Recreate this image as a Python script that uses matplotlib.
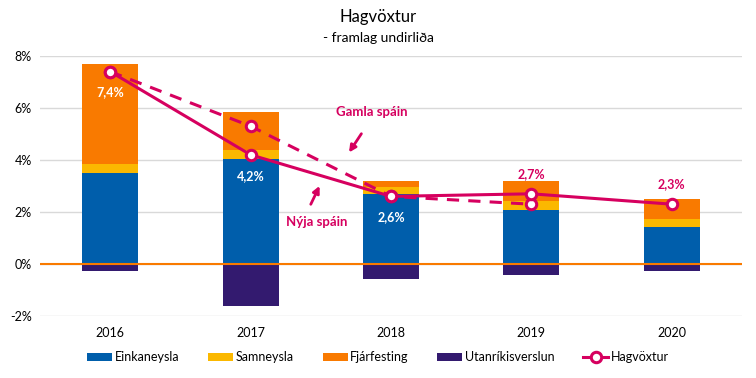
import matplotlib.pyplot as plt
import numpy as np

years = ["2016", "2017", "2018", "2019", "2020"]
einkaneysla = [3.5, 4.04, 2.69, 2.08, 1.42]
samneysla = [0.35, 0.34, 0.27, 0.34, 0.31]
fjarfesting = [3.85, 1.47, 0.24, 0.77, 0.77]
utanrikis = [-0.26, -1.6, -0.56, -0.42, -0.26]
hagvoxtur = [7.4, 4.2, 2.6, 2.7, 2.3]
gamla_spain = [7.4, 5.3, 2.6, 2.3]
value_labels = ["7,4%", "4,2%", "2,6%", "2,7%", "2,3%"]

c_blue = "#005EAB"
c_yellow = "#FBB800"
c_orange = "#F97A00"
c_purple = "#331A6F"
c_line = "#D6005F"

plt.rcParams['font.family'] = ['Lato', 'DejaVu Sans']

fig = plt.figure(figsize=(7.56, 3.78), dpi=100)
ax = fig.add_axes([40 / 756, 1 - 316 / 378, 702 / 756, 260 / 378])

x = np.arange(len(years))
w = 0.4
e = np.array(einkaneysla)
s = np.array(samneysla)
f = np.array(fjarfesting)
ax.bar(x, e, w, color=c_blue, label="Einkaneysla", zorder=2)
ax.bar(x, s, w, bottom=e, color=c_yellow, label="Samneysla", zorder=2)
ax.bar(x, f, w, bottom=e + s, color=c_orange, label="Fjárfesting", zorder=2)
ax.bar(x, utanrikis, w, color=c_purple, label="Utanríkisverslun", zorder=2)

ax.axhline(0, color=c_orange, lw=1.5, zorder=3)

ax.plot(x[:len(gamla_spain)], gamla_spain, color=c_line, lw=2.2, ls=(0, (4, 3)),
        marker="o", ms=7.5, mfc="white", mec=c_line, mew=2.2, zorder=4)
ax.plot(x, hagvoxtur, color=c_line, lw=2.2, marker="o", ms=7.5, mfc="white",
        mec=c_line, mew=2.2, label="Hagvöxtur", zorder=5)

for i, (v, lab) in enumerate(zip(hagvoxtur, value_labels)):
    if i < 3:
        ax.text(i, v - 0.8, lab, ha="center", va="center", color="white",
                fontsize=9, fontweight="bold", zorder=6)
    else:
        ax.text(i, v + 0.77, lab, ha="center", va="center", color=c_line,
                fontsize=9, fontweight="bold", zorder=6)

ax.text(1.86, 5.85, "Gamla spáin", ha="center", va="center", color=c_line,
        fontsize=9.5, fontweight="bold")
ax.annotate("", xy=(1.69, 4.2), xytext=(1.8, 5.1),
            arrowprops=dict(arrowstyle="-|>", color=c_line, lw=2, mutation_scale=10))
ax.text(1.47, 1.6, "Nýja spáin", ha="center", va="center", color=c_line,
        fontsize=9.5, fontweight="bold")
ax.annotate("", xy=(1.5, 3.1), xytext=(1.42, 2.2),
            arrowprops=dict(arrowstyle="-|>", color=c_line, lw=2, mutation_scale=10))

ax.set_xlim(-0.5, 4.5)
ax.set_ylim(-2, 8)
ax.set_yticks(np.arange(-2, 9, 2))
ax.set_yticklabels([f"{t}%" for t in range(-2, 9, 2)])
ax.set_xticks(x)
ax.set_xticklabels(years)
ax.tick_params(length=0, labelsize=9, pad=8)
ax.tick_params(axis="y", pad=6)
ax.grid(axis="y", color="#D9D9D9", lw=1, zorder=0)
for sp in ax.spines.values():
    sp.set_visible(False)

fig.text(0.5, 1 - 17 / 378, "Hagvöxtur", ha="center", va="center", fontsize=12)
fig.text(0.5, 1 - 38 / 378, "- framlag undirliða", ha="center", va="center", fontsize=10)

handles, labels = ax.get_legend_handles_labels()
order = [1, 2, 3, 4, 0]
fig.legend([handles[i] for i in order], [labels[i] for i in order],
           loc="center", bbox_to_anchor=(0.5, 1 - 357 / 378), ncol=5,
           frameon=False, fontsize=9, handlelength=2.0, handleheight=0.6,
           columnspacing=2.3, handletextpad=0.2)

fig.savefig("out.png")
